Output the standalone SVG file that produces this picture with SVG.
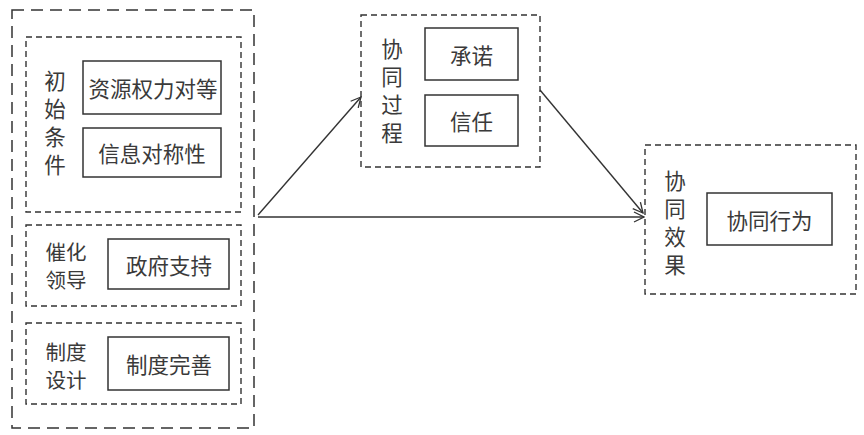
<svg xmlns="http://www.w3.org/2000/svg" width="864" height="435" viewBox="0 0 864 435">
<defs>
<style>
.outer{fill:none;stroke:#333;stroke-width:1.5;stroke-dasharray:12 7}
.dash{fill:none;stroke:#333;stroke-width:1.4;stroke-dasharray:6 4}
.solid{fill:#fff;stroke:#333;stroke-width:1.5}
text{font-family:"Noto Sans CJK SC","Noto Sans CJK JP",sans-serif;font-size:21.5px;fill:#3a3a3a;text-anchor:middle;dominant-baseline:central}
.lbl{font-size:20.5px}
.conn{fill:none;stroke:#333;stroke-width:1.4}
</style>
<marker id="arr" viewBox="0 0 12 12" refX="11" refY="6" markerWidth="12" markerHeight="12" markerUnits="userSpaceOnUse" orient="auto">
<path d="M1,1 L11,6 L1,11" fill="none" stroke="#333" stroke-width="1.3"/>
</marker>
</defs>
<rect width="864" height="435" fill="#fff"/>
<g id="left">
<rect class="outer" x="12" y="10" width="242" height="418"/>
<g id="chushi">
<rect class="dash" x="26" y="37" width="215" height="175"/>
<text x="55" y="79"><tspan x="55" y="79">初</tspan><tspan x="55" y="107">始</tspan><tspan x="55" y="135">条</tspan><tspan x="55" y="163">件</tspan></text>
<rect class="solid" x="83" y="61" width="138" height="53"/>
<text x="153" y="87.5">资源权力对等</text>
<rect class="solid" x="83" y="128" width="138" height="49"/>
<text x="152" y="152.5">信息对称性</text>
</g>
<g id="cuihua">
<rect class="dash" x="26" y="225" width="215" height="81"/>
<text class="lbl" x="66" y="251"><tspan x="66" y="251">催化</tspan><tspan x="66" y="279">领导</tspan></text>
<rect class="solid" x="108" y="239" width="121" height="50"/>
<text x="169" y="264">政府支持</text>
</g>
<g id="zhidu">
<rect class="dash" x="26" y="323" width="215" height="81"/>
<text class="lbl" x="66" y="351"><tspan x="66" y="351">制度</tspan><tspan x="66" y="379">设计</tspan></text>
<rect class="solid" x="108" y="337" width="121" height="53"/>
<text x="169" y="363.5">制度完善</text>
</g>
</g>
<g id="guocheng">
<rect class="dash" x="361" y="15" width="179" height="152"/>
<text x="392" y="47"><tspan x="392" y="47">协</tspan><tspan x="392" y="75">同</tspan><tspan x="392" y="103">过</tspan><tspan x="392" y="131">程</tspan></text>
<rect class="solid" x="425" y="28" width="93" height="52"/>
<text x="471.5" y="54">承诺</text>
<rect class="solid" x="425" y="95" width="93" height="51"/>
<text x="471.5" y="120.5">信任</text>
</g>
<g id="xiaoguo">
<rect class="dash" x="645" y="145" width="211" height="149"/>
<text x="675" y="179"><tspan x="675" y="179">协</tspan><tspan x="675" y="207">同</tspan><tspan x="675" y="235">效</tspan><tspan x="675" y="263">果</tspan></text>
<rect class="solid" x="707" y="193" width="125" height="52"/>
<text x="769.5" y="219">协同行为</text>
</g>
<g id="connectors">
<line class="conn" x1="258" y1="215" x2="361" y2="97" marker-end="url(#arr)"/>
<line class="conn" x1="258" y1="217" x2="644" y2="217" marker-end="url(#arr)"/>
<line class="conn" x1="540" y1="90" x2="643" y2="213" marker-end="url(#arr)"/>
</g>
</svg>
